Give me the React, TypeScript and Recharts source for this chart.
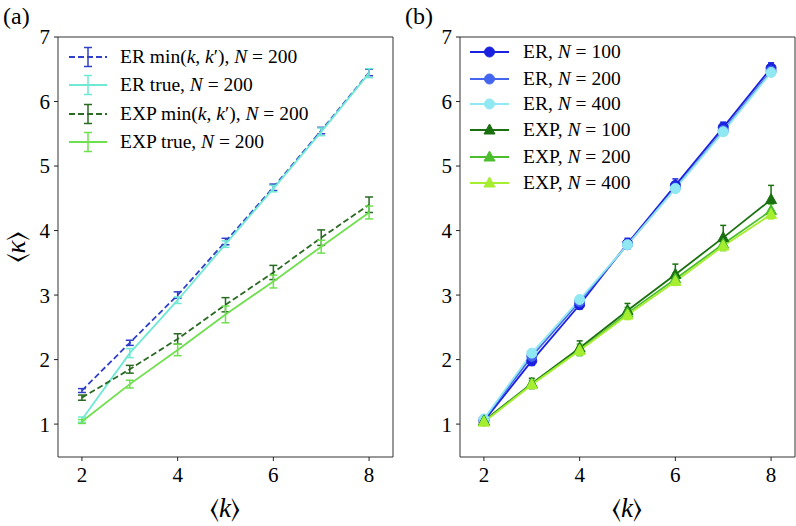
import React from "react";
import { LineChart, Line, XAxis, YAxis, ErrorBar, ReferenceArea } from "recharts";

// mean degree <k>
const kValues = [2, 3, 4, 5, 6, 7, 8];

// panel (a), N = 200
const erMinA = [1.52, 2.26, 3.0, 3.83, 4.67, 5.55, 6.45];
const erMinAErr = [0.03, 0.04, 0.05, 0.05, 0.05, 0.05, 0.05];
const erTrueA = [1.07, 2.1, 2.92, 3.79, 4.65, 5.53, 6.44];
const erTrueAErr = [0.04, 0.07, 0.05, 0.05, 0.05, 0.06, 0.07];
const expMinA = [1.41, 1.85, 2.32, 2.85, 3.35, 3.89, 4.4];
const expMinAErr = [0.04, 0.06, 0.08, 0.11, 0.11, 0.12, 0.12];
const expTrueA = [1.04, 1.62, 2.15, 2.7, 3.21, 3.75, 4.28];
const expTrueAErr = [0.03, 0.06, 0.09, 0.13, 0.1, 0.1, 0.1];

// panel (b)
const er100 = [1.05, 1.98, 2.85, 3.8, 4.7, 5.6, 6.52];
const er100Err = [0.03, 0.07, 0.07, 0.08, 0.1, 0.08, 0.08];
const er200 = [1.07, 2.05, 2.9, 3.78, 4.66, 5.55, 6.47];
const er200Err = [0.03, 0.06, 0.05, 0.06, 0.06, 0.06, 0.06];
const er400 = [1.08, 2.1, 2.93, 3.78, 4.65, 5.53, 6.45];
const er400Err = [0.03, 0.04, 0.04, 0.04, 0.05, 0.04, 0.05];
const exp100 = [1.05, 1.63, 2.18, 2.76, 3.32, 3.89, 4.48];
const exp100Err = [0.03, 0.08, 0.11, 0.11, 0.16, 0.19, 0.22];
const exp200 = [1.04, 1.62, 2.15, 2.72, 3.25, 3.79, 4.31];
const exp200Err = [0.03, 0.06, 0.09, 0.09, 0.09, 0.1, 0.1];
const exp400 = [1.03, 1.61, 2.14, 2.69, 3.21, 3.76, 4.25];
const exp400Err = [0.02, 0.05, 0.07, 0.07, 0.06, 0.07, 0.07];

const xTicks = [2, 4, 6, 8];
const yTicks = [1, 2, 3, 4, 5, 6, 7];

const rowsA = kValues.map((k, i) => ({
  k,
  erMin: erMinA[i], erMinErr: erMinAErr[i],
  erTrue: erTrueA[i], erTrueErr: erTrueAErr[i],
  expMin: expMinA[i], expMinErr: expMinAErr[i],
  expTrue: expTrueA[i], expTrueErr: expTrueAErr[i],
}));

const rowsB = kValues.map((k, i) => ({
  k,
  er100: er100[i], er100Err: er100Err[i],
  er200: er200[i], er200Err: er200Err[i],
  er400: er400[i], er400Err: er400Err[i],
  exp100: exp100[i], exp100Err: exp100Err[i],
  exp200: exp200[i], exp200Err: exp200Err[i],
  exp400: exp400[i], exp400Err: exp400Err[i],
}));

const serif = "Liberation Serif";
const mathFont = "Liberation Serif, FreeSerif";

const seriesA = [
  { key: "erMin", color: "#3040c8", dash: "6 3" },
  { key: "erTrue", color: "#6fe8d4", dash: undefined },
  { key: "expMin", color: "#2a6a22", dash: "6 3" },
  { key: "expTrue", color: "#6ee04e", dash: undefined },
];

const seriesB = [
  { key: "er100", color: "#1a22e0", shape: "circle" },
  { key: "er200", color: "#4466ee", shape: "circle" },
  { key: "er400", color: "#90e8f2", shape: "circle" },
  { key: "exp100", color: "#1a700f", shape: "tri" },
  { key: "exp200", color: "#4cbe2e", shape: "tri" },
  { key: "exp400", color: "#a6ee30", shape: "tri" },
];

const XTick = (p: any) => (
  <text x={p.x} y={p.y} dy="0.71em" textAnchor="middle" fontFamily={serif} fontSize={21} fill="#000">
    {p.payload.value}
  </text>
);

const YTick = (p: any) => (
  <text x={p.x} y={p.y} dy="0.355em" textAnchor="end" fontFamily={serif} fontSize={21} fill="#000">
    {p.payload.value}
  </text>
);

const Marker = ({ shape, cx, cy, color }: any) =>
  shape === "circle" ? (
    <circle cx={cx} cy={cy} r={5} fill={color} stroke={color} />
  ) : (
    <polygon points={`${cx},${cy - 6} ${cx - 5.5},${cy + 4} ${cx + 5.5},${cy + 4}`} fill={color} stroke={color} />
  );

const I = ({ children }: any) => <tspan fontStyle="italic">{children}</tspan>;

function PanelA() {
  return (
    <LineChart width={400} height={526} data={rowsA} margin={{ top: 37, right: 7, left: 0, bottom: 0 }}>
      <XAxis dataKey="k" type="number" domain={[1.5, 8.5]} ticks={xTicks} height={69}
        axisLine={false} tickSize={4} tickMargin={6} tickLine={{ stroke: "#222" }} tick={XTick} allowDataOverflow />
      <YAxis type="number" domain={[0.49, 7]} ticks={yTicks} width={58}
        axisLine={false} tickSize={4} tickMargin={4} tickLine={{ stroke: "#222" }} tick={YTick} allowDataOverflow />
      <ReferenceArea x1={1.5} x2={8.5} y1={0.49} y2={7} fill="none" stroke="#333" strokeWidth={1} ifOverflow="visible" />
      {seriesA.map((s) => (
        <Line key={s.key} dataKey={s.key} stroke={s.color} strokeWidth={1.8} strokeDasharray={s.dash}
          dot={false} activeDot={false} isAnimationActive={false}>
          <ErrorBar dataKey={s.key + "Err"} direction="y" width={4} stroke={s.color} strokeWidth={1.5} />
        </Line>
      ))}
    </LineChart>
  );
}

function PanelB() {
  return (
    <LineChart width={396} height={526} data={rowsB} margin={{ top: 37, right: 1, left: 0, bottom: 0 }}>
      <XAxis dataKey="k" type="number" domain={[1.5, 8.5]} ticks={xTicks} height={69}
        axisLine={false} tickSize={4} tickMargin={6} tickLine={{ stroke: "#222" }} tick={XTick} allowDataOverflow />
      <YAxis type="number" domain={[0.49, 7]} ticks={yTicks} width={60}
        axisLine={false} tickSize={4} tickMargin={4} tickLine={{ stroke: "#222" }} tick={YTick} allowDataOverflow />
      <ReferenceArea x1={1.5} x2={8.5} y1={0.49} y2={7} fill="none" stroke="#333" strokeWidth={1} ifOverflow="visible" />
      {seriesB.map((s) => (
        <Line key={s.key} dataKey={s.key} stroke={s.color} strokeWidth={1.8} activeDot={false} isAnimationActive={false}
          dot={(p: any) => <Marker key={s.key + p.index} shape={s.shape} cx={p.cx} cy={p.cy} color={s.color} />}>
          <ErrorBar dataKey={s.key + "Err"} direction="y" width={3} stroke={s.color} strokeWidth={1.5} />
        </Line>
      ))}
    </LineChart>
  );
}

const legendA = [
  <>ER min(<I>k</I>, <I>k</I>′), <I>N</I> = 200</>,
  <>ER true, <I>N</I> = 200</>,
  <>EXP min(<I>k</I>, <I>k</I>′), <I>N</I> = 200</>,
  <>EXP true, <I>N</I> = 200</>,
];
const legendAY = [57, 85, 114, 142];

const legendB = [
  <>ER, <I>N</I> = 100</>,
  <>ER, <I>N</I> = 200</>,
  <>ER, <I>N</I> = 400</>,
  <>EXP, <I>N</I> = 100</>,
  <>EXP, <I>N</I> = 200</>,
  <>EXP, <I>N</I> = 400</>,
];
const legendBY = [52, 79, 104, 130, 157, 183];

function Overlay() {
  return (
    <svg width={796} height={526} style={{ position: "absolute", left: 0, top: 0, pointerEvents: "none" }}>
      <g fontFamily={serif} fill="#000">
        <text x={3} y={24} fontSize={24}>(a)</text>
        <text x={405} y={24} fontSize={24}>(b)</text>
      </g>
      <g fontFamily={mathFont} fill="#000">
        <text x={225} y={517} fontSize={27} textAnchor="middle">⟨<I>k</I>⟩</text>
        <text x={627} y={517} fontSize={27} textAnchor="middle">⟨<I>k</I>⟩</text>
        <text transform="translate(25,247) rotate(-90)" fontSize={27} textAnchor="middle">⟨<I>κ</I>⟩</text>
      </g>
      {seriesA.map((s, i) => {
        const y = legendAY[i];
        return (
          <g key={s.key}>
            <line x1={69} x2={107} y1={y} y2={y} stroke={s.color} strokeWidth={1.8} strokeDasharray={s.dash} />
            <line x1={88} x2={88} y1={y - 9.5} y2={y + 9.5} stroke={s.color} strokeWidth={1.5} />
            <line x1={84} x2={92} y1={y - 9.5} y2={y - 9.5} stroke={s.color} strokeWidth={1.5} />
            <line x1={84} x2={92} y1={y + 9.5} y2={y + 9.5} stroke={s.color} strokeWidth={1.5} />
            <text x={120} y={y + 6} fontFamily={serif} fontSize={19.5} fill="#000">{legendA[i]}</text>
          </g>
        );
      })}
      {seriesB.map((s, i) => {
        const y = legendBY[i];
        return (
          <g key={s.key}>
            <line x1={470} x2={509} y1={y} y2={y} stroke={s.color} strokeWidth={1.8} />
            <Marker shape={s.shape} cx={489.5} cy={y} color={s.color} />
            <text x={523} y={y + 6} fontFamily={serif} fontSize={19.5} fill="#000">{legendB[i]}</text>
          </g>
        );
      })}
    </svg>
  );
}

export default function App() {
  return (
    <div style={{ position: "absolute", left: 0, top: 0, width: 796, height: 526, background: "#fff" }}>
      <div style={{ position: "absolute", left: 0, top: 0 }}>
        <PanelA />
      </div>
      <div style={{ position: "absolute", left: 400, top: 0 }}>
        <PanelB />
      </div>
      <Overlay />
    </div>
  );
}
